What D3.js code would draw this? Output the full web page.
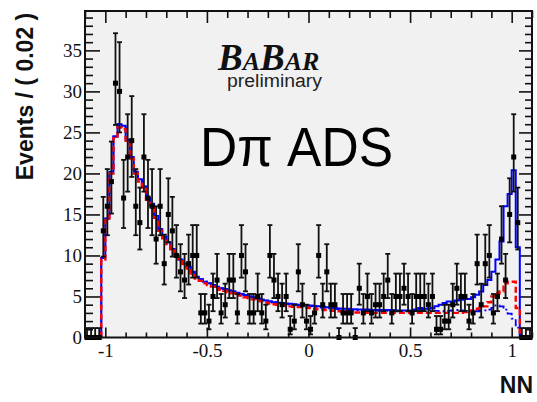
<!DOCTYPE html>
<html>
<head>
<meta charset="utf-8">
<script src="https://cdn.jsdelivr.net/npm/d3@7"></script>
<style>
html, body { margin: 0; padding: 0; background: #fff; }
svg { display: block; }
</style>
</head>
<body>
<svg id="chart" width="537" height="402"></svg>
<script>
// binning of the NN output
const xMin = -1.1;
const xMax = 1.1;
const binWidth = 0.02;
const yMax = 39.8;

// events per bin (data points)
const dataCounts = [
    0, 0, 0, 0, 13, 16, 19, 31, 30, 17,
    22, 24, 16, 14, 22, 17, 16, 12, 16, 9,
    15, 13, 10, 8, 7, 9, 10, 10, 3, 3,
    2, 5, 7, 3, 4, 7, 7, 3, 10, 8,
    3, 3, 5, 3, 2, 10, 7, 5, 4, 5,
    1, 2, 8, 4, 2, 1, 3, 10, 4, 8,
    4, 4, 0, 3, 3, 3, 0, 6, 3, 5,
    3, 4, 4, 5, 7, 3, 5, 5, 6, 5,
    3, 5, 5, 5, 4, 5, 1, 1, 2, 2,
    4, 6, 5, 5, 2, 3, 9, 4, 9, 10,
    3, 5, 12, 7, 15, 22, 14, 0, 0, 0
];

// total fit (blue solid)
const totalModel = [
    0, 0, 0, 0, 9.7, 14.5, 20.2, 24.5, 26.0, 25.8,
    24.1, 22.0, 20.2, 19.3, 18.4, 17.0, 16.3, 14.8, 13.2, 12.3,
    11.6, 10.8, 10.0, 9.5, 9.0, 8.6, 8.0, 7.4, 7.1, 6.8,
    6.6, 6.4, 6.2, 6.0, 5.9, 5.75, 5.6, 5.45, 5.3, 5.15,
    5.0, 4.9, 4.75, 4.6, 4.5, 4.4, 4.3, 4.25, 4.2, 4.15,
    4.1, 4.05, 4.0, 4.0, 3.95, 3.9, 3.85, 3.8, 3.75, 3.7,
    3.65, 3.6, 3.55, 3.5, 3.5, 3.45, 3.45, 3.4, 3.4, 3.4,
    3.35, 3.35, 3.35, 3.35, 3.35, 3.35, 3.3, 3.3, 3.3, 3.3,
    3.3, 3.4, 3.6, 3.5, 3.5, 3.6, 3.8, 4.0, 4.2, 4.4,
    4.4, 4.5, 4.6, 4.7, 4.7, 4.9, 5.2, 5.6, 6.4, 7.0,
    8.0, 9.5, 11.7, 16.0, 17.5, 20.4, 11.0, 0, 0, 0
];

// red dashed component
const redModel = [
    0, 0, 0, 0, 9.5, 14.3, 20.0, 24.3, 25.6, 25.4,
    23.8, 21.8, 20.0, 19.0, 18.1, 16.8, 16.0, 14.6, 13.0, 12.1,
    11.4, 10.6, 9.8, 9.3, 8.8, 8.4, 7.8, 7.2, 6.9, 6.6,
    6.4, 6.2, 6.0, 5.8, 5.7, 5.5, 5.4, 5.2, 5.1, 4.9,
    4.8, 4.65, 4.5, 4.4, 4.25, 4.15, 4.05, 4.0, 3.9, 3.85,
    3.8, 3.75, 3.7, 3.7, 3.65, 3.6, 3.5, 3.45, 3.4, 3.35,
    3.3, 3.25, 3.2, 3.15, 3.1, 3.1, 3.05, 3.05, 3.0, 3.0,
    3.0, 3.0, 3.0, 3.0, 3.0, 3.0, 3.0, 3.0, 3.0, 3.0,
    3.0, 3.0, 3.0, 3.0, 3.0, 3.0, 3.0, 3.0, 3.0, 3.0,
    3.0, 3.0, 3.0, 3.1, 3.2, 3.3, 3.5, 3.6, 3.8, 4.3,
    5.0, 5.4, 5.6, 6.6, 6.8, 6.8, 3.6, 0, 0, 0
];

// blue dash-dotted component
const dashDotModel = [
    0, 0, 0, 0, 9.7, 14.5, 20.2, 24.5, 26.0, 25.8,
    24.1, 22.0, 20.2, 19.3, 18.4, 17.0, 16.3, 14.8, 13.2, 12.3,
    11.6, 10.8, 10.0, 9.5, 9.0, 8.6, 8.0, 7.4, 7.1, 6.8,
    6.6, 6.4, 6.2, 6.0, 5.9, 5.75, 5.6, 5.45, 5.3, 5.15,
    5.0, 4.9, 4.75, 4.6, 4.5, 4.4, 4.3, 4.2, 4.15, 4.1,
    4.05, 4.0, 3.95, 3.9, 3.85, 3.8, 3.75, 3.7, 3.65, 3.6,
    3.55, 3.5, 3.45, 3.4, 3.4, 3.35, 3.35, 3.3, 3.3, 3.3,
    3.25, 3.25, 3.25, 3.25, 3.25, 3.2, 3.2, 3.2, 3.2, 3.2,
    3.2, 3.3, 3.4, 3.3, 3.3, 3.3, 3.25, 3.2, 3.2, 3.25,
    3.3, 3.35, 3.3, 3.25, 3.2, 3.2, 3.2, 3.25, 3.3, 3.4,
    3.6, 3.9, 3.8, 3.4, 2.9, 2.3, 1.2, 0, 0, 0
];

const xTicks = [-1, -0.5, 0, 0.5, 1];
const xTickLabels = ['-1', '-0.5', '0', '0.5', '1'];
const yTicks = [0, 5, 10, 15, 20, 25, 30, 35];

const svg = d3.select('#chart');

const x = d3.scaleLinear().domain([xMin, xMax]).range([85, 532]);
const y = d3.scaleLinear().domain([0, yMax]).range([337.5, 11]);

const edge = i => xMin + i * binWidth;
const center = i => xMin + (i + 0.5) * binWidth;

// plot background
svg.append('rect')
    .attr('x', x(xMin)).attr('y', y(yMax))
    .attr('width', x(xMax) - x(xMin)).attr('height', y(0) - y(yMax))
    .attr('fill', '#f1f1f1');

// axes, ROOT style ticks pointing inward
const xMinor = d3.range(-11, 12).map(k => k / 10).filter(v => !xTicks.some(t => Math.abs(t - v) < 1e-9));
const yMinor = d3.range(0, 40).filter(v => v % 5 !== 0);

function styleAxis(g) {
    g.select('.domain').remove();
    g.selectAll('line').attr('stroke', '#111').attr('stroke-width', 1.6);
    g.selectAll('text')
        .attr('font-family', '"Liberation Serif", "Times New Roman", serif')
        .attr('font-size', 19)
        .attr('fill', '#111');
}

svg.append('g')
    .attr('transform', `translate(0,${y(0)})`)
    .call(d3.axisBottom(x).tickValues(xTicks).tickSize(-10).tickPadding(6)
        .tickFormat((d, i) => xTickLabels[i]))
    .call(styleAxis);
svg.append('g')
    .attr('transform', `translate(0,${y(0)})`)
    .call(d3.axisBottom(x).tickValues(xMinor).tickSize(-5).tickFormat(''))
    .call(styleAxis);

svg.append('g')
    .attr('transform', `translate(0,${y(yMax)})`)
    .call(d3.axisTop(x).tickValues(xTicks).tickSize(-12).tickFormat(''))
    .call(styleAxis);
svg.append('g')
    .attr('transform', `translate(0,${y(yMax)})`)
    .call(d3.axisTop(x).tickValues(xMinor).tickSize(-7).tickFormat(''))
    .call(styleAxis);

svg.append('g')
    .attr('transform', `translate(${x(xMin)},0)`)
    .call(d3.axisLeft(y).tickValues(yTicks).tickSize(-15).tickPadding(3))
    .call(styleAxis);
svg.append('g')
    .attr('transform', `translate(${x(xMin)},0)`)
    .call(d3.axisLeft(y).tickValues(yMinor).tickSize(-8).tickFormat(''))
    .call(styleAxis);

svg.append('g')
    .attr('transform', `translate(${x(xMax)},0)`)
    .call(d3.axisRight(y).tickValues(yTicks).tickSize(-13).tickFormat(''))
    .call(styleAxis);
svg.append('g')
    .attr('transform', `translate(${x(xMax)},0)`)
    .call(d3.axisRight(y).tickValues(yMinor).tickSize(-7).tickFormat(''))
    .call(styleAxis);

// step curves from the model arrays
function stepPoints(values) {
    const idx = values.map((v, i) => i).filter(i => values[i] > 0);
    const first = idx[0], last = idx[idx.length - 1];
    const pts = [[edge(first), 0]];
    for (let i = first; i <= last; i++) pts.push([edge(i), values[i]]);
    pts.push([edge(last + 1), values[last]]);
    pts.push([edge(last + 1), 0]);
    return pts;
}

const stepLine = d3.line()
    .x(d => x(d[0]))
    .y(d => y(d[1]))
    .curve(d3.curveStepAfter);

svg.append('path')
    .attr('d', stepLine(stepPoints(totalModel)))
    .attr('fill', 'none').attr('stroke', '#0000ff').attr('stroke-width', 2);

svg.append('path')
    .attr('d', stepLine(stepPoints(dashDotModel)))
    .attr('fill', 'none').attr('stroke', '#0000ff').attr('stroke-width', 1.8)
    .attr('stroke-dasharray', '7,3,2,3');

svg.append('path')
    .attr('d', stepLine(stepPoints(redModel)))
    .attr('fill', 'none').attr('stroke', '#ff0000').attr('stroke-width', 2.4)
    .attr('stroke-dasharray', '6,3');

// data points with Poisson-like asymmetric error bars
const points = dataCounts.map((n, i) => ({
    x: center(i),
    n: n,
    lo: n === 0 ? 0 : n + 0.5 - Math.sqrt(n + 0.25),
    hi: n === 0 ? 1.15 : n + 0.5 + Math.sqrt(n + 0.25)
}));

const dataG = svg.append('g').attr('stroke', '#111').attr('stroke-width', 1.8);
const capHalf = 2.5;

dataG.selectAll('.err')
    .data(points).enter()
    .append('line')
    .attr('x1', d => x(d.x)).attr('x2', d => x(d.x))
    .attr('y1', d => y(d.lo)).attr('y2', d => y(d.hi));

dataG.selectAll('.capHi')
    .data(points).enter()
    .append('line')
    .attr('x1', d => x(d.x) - capHalf).attr('x2', d => x(d.x) + capHalf)
    .attr('y1', d => y(d.hi)).attr('y2', d => y(d.hi));

dataG.selectAll('.capLo')
    .data(points.filter(d => d.n > 0)).enter()
    .append('line')
    .attr('x1', d => x(d.x) - capHalf).attr('x2', d => x(d.x) + capHalf)
    .attr('y1', d => y(d.lo)).attr('y2', d => y(d.lo));

svg.append('g').selectAll('rect')
    .data(points).enter()
    .append('rect')
    .attr('x', d => x(d.x) - 2.5).attr('y', d => y(d.n) - 2.5)
    .attr('width', 5).attr('height', 5)
    .attr('fill', '#000');

// frame
svg.append('rect')
    .attr('x', x(xMin)).attr('y', y(yMax))
    .attr('width', x(xMax) - x(xMin)).attr('height', y(0) - y(yMax))
    .attr('fill', 'none').attr('stroke', '#111').attr('stroke-width', 2);

// axis titles
svg.append('text')
    .attr('transform', 'translate(33,96.5) rotate(-90)')
    .attr('text-anchor', 'middle')
    .attr('font-family', '"Liberation Sans", Arial, sans-serif')
    .attr('font-weight', 'bold')
    .attr('font-size', 23)
    .attr('fill', '#111')
    .text('Events / ( 0.02 )');

svg.append('text')
    .attr('x', 533).attr('y', 393)
    .attr('text-anchor', 'end')
    .attr('font-family', '"Liberation Sans", Arial, sans-serif')
    .attr('font-weight', 'bold')
    .attr('font-size', 23)
    .attr('fill', '#111')
    .text('NN');

// BaBar logo: large and small capitals in one text
const logo = svg.append('text')
    .attr('x', 218).attr('y', 70)
    .attr('font-family', '"Liberation Serif", "Times New Roman", serif')
    .attr('font-style', 'italic')
    .attr('font-weight', 'bold')
    .attr('fill', '#111');
[['B', 37], ['A', 26], ['B', 37], ['A', 26], ['R', 26]].forEach(([ch, size]) => {
    logo.append('tspan').attr('font-size', size).text(ch);
});

svg.append('text')
    .attr('x', 227).attr('y', 87)
    .attr('font-family', '"Liberation Sans", Arial, sans-serif')
    .attr('font-size', 18)
    .attr('fill', '#222')
    .attr('textLength', 95)
    .attr('lengthAdjust', 'spacingAndGlyphs')
    .text('preliminary');

svg.append('text')
    .attr('x', 200).attr('y', 166)
    .attr('font-family', '"Comic Sans MS", "Liberation Sans", Arial, sans-serif')
    .attr('font-size', 55)
    .attr('fill', '#000')
    .attr('textLength', 193)
    .attr('lengthAdjust', 'spacingAndGlyphs')
    .text('Dπ ADS');
</script>
</body>
</html>
